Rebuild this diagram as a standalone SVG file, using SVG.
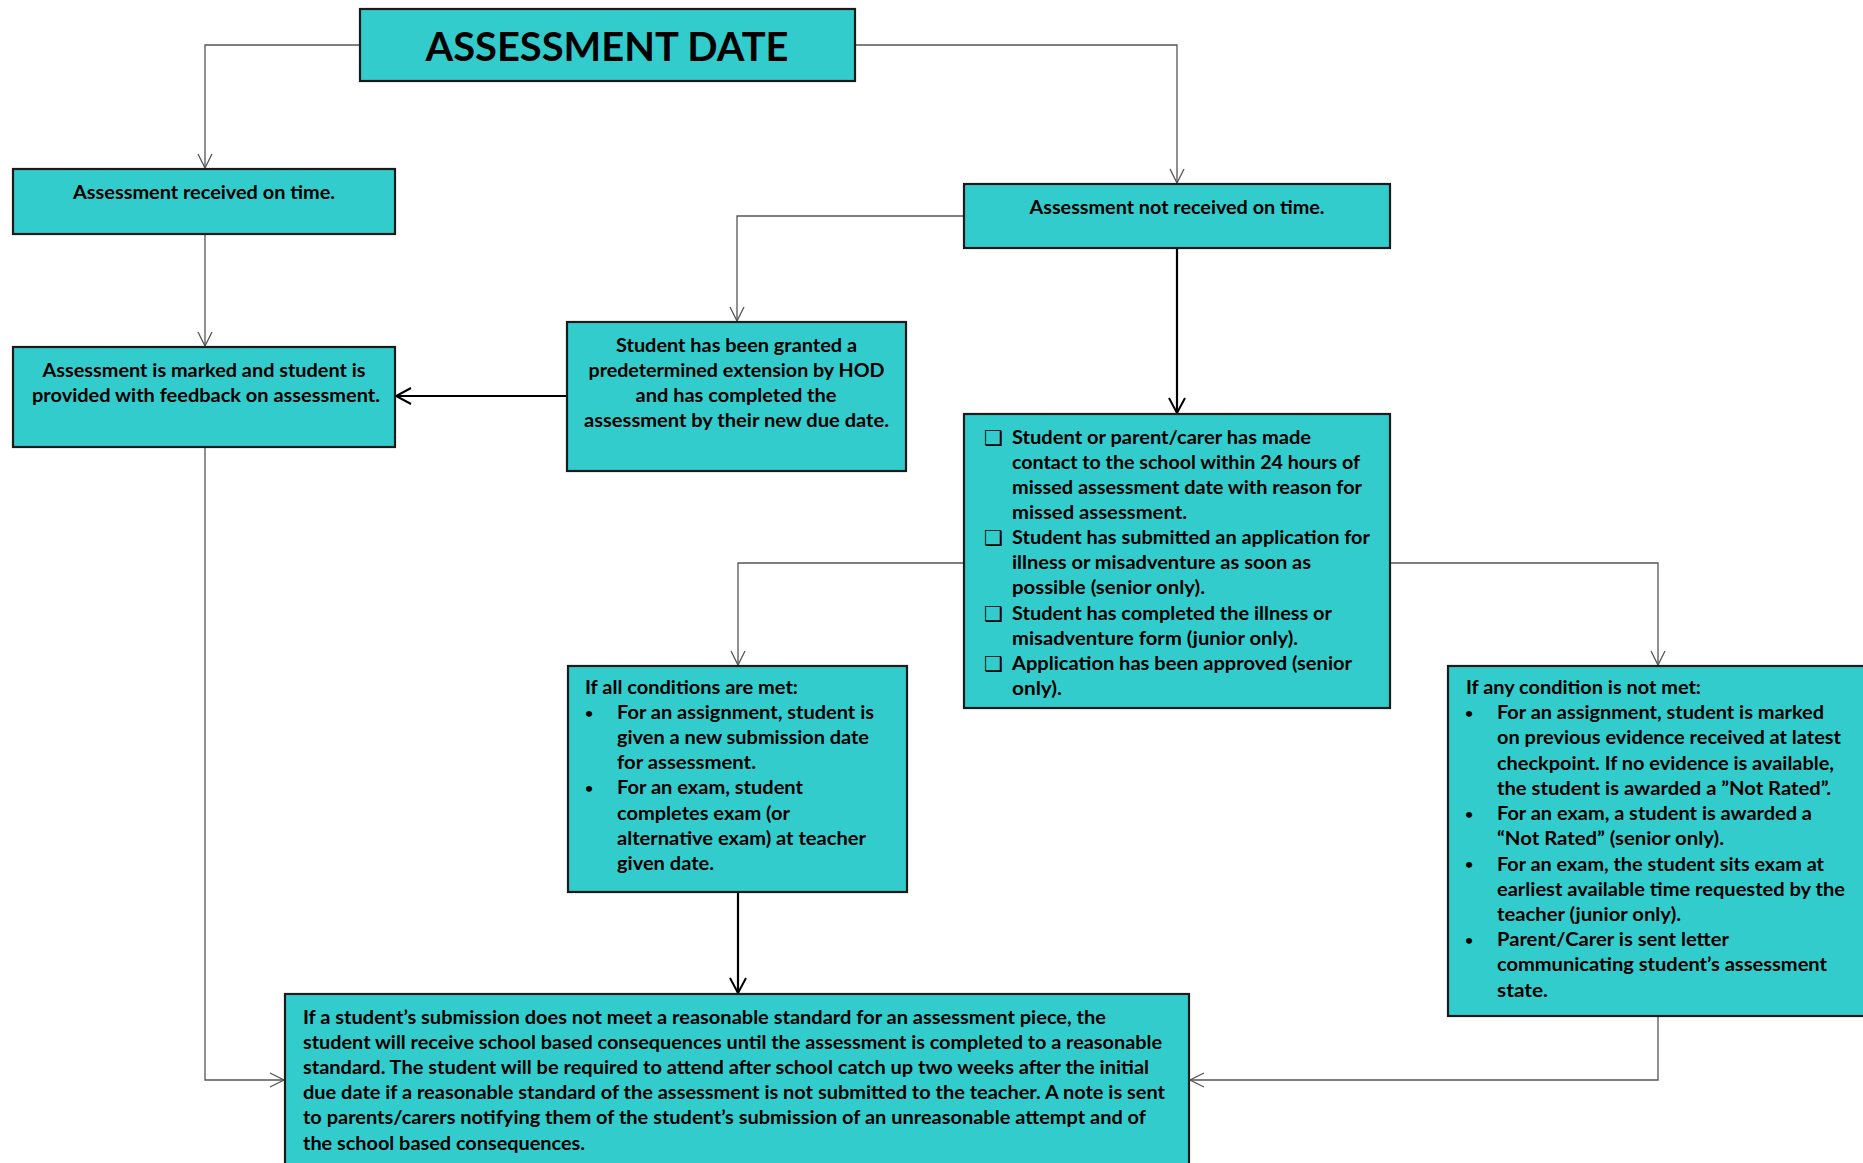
<svg xmlns="http://www.w3.org/2000/svg" width="1863" height="1163" viewBox="0 0 1863 1163">
<style>
.box{fill:#33CCCC;stroke:#1a1a1a;stroke-width:2.2}
.t{font-family:Lato,"Liberation Sans",sans-serif;font-weight:700;font-size:19px;fill:#000}
.c{text-anchor:middle}
.ttl{font-family:Lato,"Liberation Sans",sans-serif;font-weight:700;font-size:40px;fill:#000;text-anchor:middle}
.cb{font-family:"DejaVu Sans",sans-serif;font-size:21px;font-weight:700;fill:#000}
.bu{font-family:Lato,"Liberation Sans",sans-serif;font-weight:700;font-size:14px;fill:#000;text-anchor:middle}
.thin{stroke:#555;stroke-width:1.3;fill:none;marker-end:url(#ah)}
.thick{stroke:#000;stroke-width:2.2;fill:none;marker-end:url(#ahk)}
</style>
<defs>
<marker id="ah" viewBox="0 0 16 16" refX="15" refY="8" markerWidth="16" markerHeight="16" markerUnits="userSpaceOnUse" orient="auto"><path d="M1,1 L15,8 L1,15" fill="none" stroke="#555" stroke-width="1.3"/></marker>
<marker id="ahk" viewBox="0 0 18 18" refX="16" refY="9" markerWidth="18" markerHeight="18" markerUnits="userSpaceOnUse" orient="auto"><path d="M1,1 L16,9 L1,17" fill="none" stroke="#000" stroke-width="2"/></marker>
</defs>
<rect width="1863" height="1163" fill="#fff"/>

<g id="connectors">
<path class="thin" d="M360,45 H205 V168"/>
<path class="thin" d="M855,45 H1177 V183"/>
<path class="thin" d="M205,234 V346"/>
<path class="thin" d="M964,216 H737 V321"/>
<path class="thick" d="M1177,248 V413"/>
<path class="thick" d="M567,396 H396"/>
<path class="thin" d="M964,563 H738 V665"/>
<path class="thin" d="M1390,563 H1658 V665"/>
<path class="thick" d="M738,892 V993"/>
<path class="thin" d="M205,447 V1080 H284"/>
<path class="thin" d="M1658,1016 V1080 H1190"/>
</g>

<g id="title">
<rect class="box" x="360" y="9" width="495" height="72"/>
<text class="ttl" x="607" y="61" textLength="363" lengthAdjust="spacingAndGlyphs">ASSESSMENT DATE</text>
</g>

<g id="received">
<rect class="box" x="13" y="169" width="382" height="65"/>
<text class="t c" x="204" y="199" textLength="262" lengthAdjust="spacingAndGlyphs">Assessment received on time.</text>
</g>

<g id="marked">
<rect class="box" x="13" y="347" width="382" height="100"/>
<text class="t c" x="204" y="377" textLength="323" lengthAdjust="spacingAndGlyphs">Assessment is marked and student is</text>
<text class="t c" x="206" y="402" textLength="348" lengthAdjust="spacingAndGlyphs">provided with feedback on assessment.</text>
</g>

<g id="extension">
<rect class="box" x="567" y="322" width="339" height="149"/>
<text class="t c" x="736.5" y="352" textLength="241" lengthAdjust="spacingAndGlyphs">Student has been granted a</text>
<text class="t c" x="736.5" y="377" textLength="296" lengthAdjust="spacingAndGlyphs">predetermined extension by HOD</text>
<text class="t c" x="736" y="402" textLength="201" lengthAdjust="spacingAndGlyphs">and has completed the</text>
<text class="t c" x="736.5" y="427" textLength="305" lengthAdjust="spacingAndGlyphs">assessment by their new due date.</text>
</g>

<g id="notreceived">
<rect class="box" x="964" y="184" width="426" height="64"/>
<text class="t c" x="1177" y="214" textLength="295" lengthAdjust="spacingAndGlyphs">Assessment not received on time.</text>
</g>

<g id="conditions">
<rect class="box" x="964" y="414" width="426" height="294"/>
<text class="cb" x="984" y="444.5">❑</text>
<text class="cb" x="984" y="545">❑</text>
<text class="cb" x="984" y="620.5">❑</text>
<text class="cb" x="984" y="671">❑</text>
<text class="t" x="1012" y="443.5" textLength="299" lengthAdjust="spacingAndGlyphs">Student or parent/carer has made</text>
<text class="t" x="1012" y="468.7" textLength="348" lengthAdjust="spacingAndGlyphs">contact to the school within 24 hours of</text>
<text class="t" x="1012" y="493.8" textLength="350" lengthAdjust="spacingAndGlyphs">missed assessment date with reason for</text>
<text class="t" x="1012" y="519" textLength="175" lengthAdjust="spacingAndGlyphs">missed assessment.</text>
<text class="t" x="1012" y="544.1" textLength="358" lengthAdjust="spacingAndGlyphs">Student has submitted an application for</text>
<text class="t" x="1012" y="569.3" textLength="299" lengthAdjust="spacingAndGlyphs">illness or misadventure as soon as</text>
<text class="t" x="1012" y="594.4" textLength="193" lengthAdjust="spacingAndGlyphs">possible (senior only).</text>
<text class="t" x="1012" y="619.6" textLength="320" lengthAdjust="spacingAndGlyphs">Student has completed the illness or</text>
<text class="t" x="1012" y="644.7" textLength="286" lengthAdjust="spacingAndGlyphs">misadventure form (junior only).</text>
<text class="t" x="1012" y="669.9" textLength="340" lengthAdjust="spacingAndGlyphs">Application has been approved (senior</text>
<text class="t" x="1012" y="695" textLength="50" lengthAdjust="spacingAndGlyphs">only).</text>
</g>

<g id="allmet">
<rect class="box" x="568" y="666" width="339" height="226"/>
<text class="t" x="585" y="694" textLength="213" lengthAdjust="spacingAndGlyphs">If all conditions are met:</text>
<text class="bu" x="589" y="717.5">•</text>
<text class="bu" x="589" y="792.5">•</text>
<text class="t" x="617" y="719" textLength="257" lengthAdjust="spacingAndGlyphs">For an assignment, student is</text>
<text class="t" x="617" y="744" textLength="252" lengthAdjust="spacingAndGlyphs">given a new submission date</text>
<text class="t" x="617" y="769" textLength="139" lengthAdjust="spacingAndGlyphs">for assessment.</text>
<text class="t" x="617" y="794" textLength="186" lengthAdjust="spacingAndGlyphs">For an exam, student</text>
<text class="t" x="617" y="819.5" textLength="173" lengthAdjust="spacingAndGlyphs">completes exam (or</text>
<text class="t" x="617" y="844.5" textLength="249" lengthAdjust="spacingAndGlyphs">alternative exam) at teacher</text>
<text class="t" x="617" y="869.5" textLength="97" lengthAdjust="spacingAndGlyphs">given date.</text>
</g>

<g id="notmet">
<rect class="box" x="1448" y="666" width="430" height="350"/>
<text class="t" x="1466" y="694" textLength="235" lengthAdjust="spacingAndGlyphs">If any condition is not met:</text>
<text class="bu" x="1469" y="717.5">•</text>
<text class="bu" x="1469" y="818.5">•</text>
<text class="bu" x="1469" y="869">•</text>
<text class="bu" x="1469" y="944.5">•</text>
<text class="t" x="1497" y="719" textLength="327" lengthAdjust="spacingAndGlyphs">For an assignment, student is marked</text>
<text class="t" x="1497" y="744.3" textLength="344" lengthAdjust="spacingAndGlyphs">on previous evidence received at latest</text>
<text class="t" x="1497" y="769.5" textLength="337" lengthAdjust="spacingAndGlyphs">checkpoint. If no evidence is available,</text>
<text class="t" x="1497" y="794.8" textLength="334" lengthAdjust="spacingAndGlyphs">the student is awarded a ”Not Rated”.</text>
<text class="t" x="1497" y="820" textLength="315" lengthAdjust="spacingAndGlyphs">For an exam, a student is awarded a</text>
<text class="t" x="1497" y="845.2" textLength="227" lengthAdjust="spacingAndGlyphs">“Not Rated” (senior only).</text>
<text class="t" x="1497" y="870.5" textLength="327" lengthAdjust="spacingAndGlyphs">For an exam, the student sits exam at</text>
<text class="t" x="1497" y="895.7" textLength="348" lengthAdjust="spacingAndGlyphs">earliest available time requested by the</text>
<text class="t" x="1497" y="921" textLength="184" lengthAdjust="spacingAndGlyphs">teacher (junior only).</text>
<text class="t" x="1497" y="946" textLength="232" lengthAdjust="spacingAndGlyphs">Parent/Carer is sent letter</text>
<text class="t" x="1497" y="971.3" textLength="330" lengthAdjust="spacingAndGlyphs">communicating student’s assessment</text>
<text class="t" x="1497" y="996.5" textLength="51" lengthAdjust="spacingAndGlyphs">state.</text>
</g>

<g id="consequences">
<rect class="box" x="285" y="994" width="904" height="200"/>
<text class="t" x="303" y="1023.5" textLength="803" lengthAdjust="spacingAndGlyphs">If a student’s submission does not meet a reasonable standard for an assessment piece, the</text>
<text class="t" x="303" y="1048.7" textLength="859" lengthAdjust="spacingAndGlyphs">student will receive school based consequences until the assessment is completed to a reasonable</text>
<text class="t" x="303" y="1074" textLength="846" lengthAdjust="spacingAndGlyphs">standard. The student will be required to attend after school catch up two weeks after the initial</text>
<text class="t" x="303" y="1099.2" textLength="862" lengthAdjust="spacingAndGlyphs">due date if a reasonable standard of the assessment is not submitted to the teacher. A note is sent</text>
<text class="t" x="303" y="1124.4" textLength="843" lengthAdjust="spacingAndGlyphs">to parents/carers notifying them of the student’s submission of an unreasonable attempt and of</text>
<text class="t" x="303" y="1149.6" textLength="282" lengthAdjust="spacingAndGlyphs">the school based consequences.</text>
</g>
</svg>
